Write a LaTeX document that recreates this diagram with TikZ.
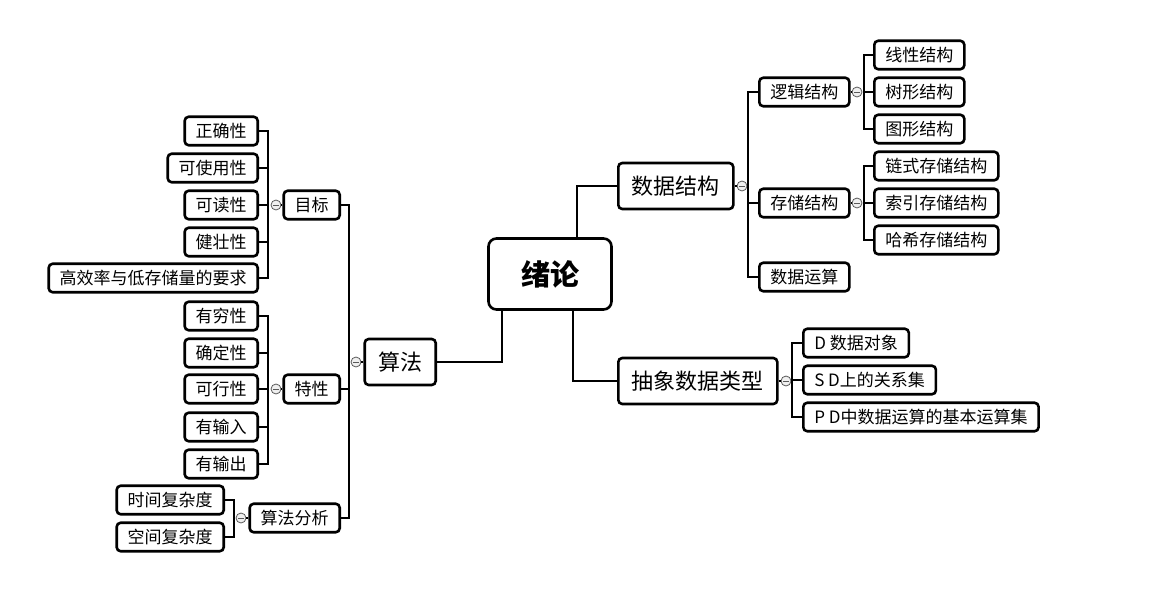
\documentclass[tikz,border=0pt]{standalone}
\usepackage{fontspec}
\setmainfont{Noto Sans CJK SC}
\usepackage{tikz}
\usetikzlibrary{positioning}

\begin{document}
\begin{tikzpicture}[x=1pt,y=-1pt,
  leaf/.style={draw,line width=2.6pt,rounded corners=4pt,font=\fontsize{17}{20}\selectfont,
    inner xsep=11pt,inner ysep=0pt,minimum height=28.5pt},
  branch/.style={leaf,font=\fontsize{22}{26}\selectfont,inner xsep=13.5pt,minimum height=46pt},
  root/.style={draw,line width=2.6pt,rounded corners=8pt,font=\fontsize{29}{34}\selectfont\bfseries,
    minimum width=123pt,minimum height=71pt},
  link/.style={line width=2.6pt},
  fold/.style={circle,draw=gray!70!black,fill=gray!12,line width=0.8pt,inner sep=0pt,minimum size=10pt,
    path picture={\draw[gray!70!black,line width=0.8pt]
      ([xshift=-2.6pt]path picture bounding box.center)--([xshift=2.6pt]path picture bounding box.center);}}]
\useasboundingbox (0,0) rectangle (1162,613);

% root and the three main branches
\node[root] (xl) at (550,274) {绪论};
\node[branch,anchor=west] (sjjg) at (617,186) {数据结构};
\node[branch,anchor=west] (cxlx) at (617,381) {抽象数据类型};
\node[branch,anchor=east] (sf) at (437,362) {算法};
\draw[link] ([xshift=27pt]xl.north) |- (sjjg.west);
\draw[link] ([xshift=23pt]xl.south) |- (cxlx.west);
\draw[link] ([xshift=-48pt]xl.south) |- (sf.east);

% 数据结构
\node[leaf,anchor=west] (ljjg) at (758,92) {逻辑结构};
\node[leaf,anchor=west] (ccjg) at (758,203) {存储结构};
\node[leaf,anchor=west] (sjys) at (758,277) {数据运算};
\node[fold] (sjfold) at (742,186) {};
\coordinate (sjt) at (748,186);
\draw[link] (sjjg.east) -- (sjfold.west);
\foreach \n in {ljjg,ccjg,sjys}
  \draw[link] (sjt) |- (\n.west);

\node[leaf,anchor=west] (xxjg) at (873,55) {线性结构};
\node[leaf,anchor=west] (sxjg) at (873,92) {树形结构};
\node[leaf,anchor=west] (txjg) at (873,129) {图形结构};
\node[fold] (ljfold) at (857,92) {};
\coordinate (ljt) at (864,92);
\draw[link] (ljjg.east) -- (ljfold.west);
\foreach \n in {xxjg,sxjg,txjg}
  \draw[link] (ljt) |- (\n.west);

\node[leaf,anchor=west] (lsjg) at (873,166) {链式存储结构};
\node[leaf,anchor=west] (syjg) at (873,203) {索引存储结构};
\node[leaf,anchor=west] (hxjg) at (873,240) {哈希存储结构};
\node[fold] (ccfold) at (857,203) {};
\coordinate (cct) at (864,203);
\draw[link] (ccjg.east) -- (ccfold.west);
\foreach \n in {lsjg,syjg,hxjg}
  \draw[link] (cct) |- (\n.west);

% 抽象数据类型
\node[leaf,anchor=west] (dobj) at (802,343) {D 数据对象};
\node[leaf,anchor=west] (srel) at (802,380) {S D上的关系集};
\node[leaf,anchor=west] (pops) at (802,417) {P D中数据运算的基本运算集};
\node[fold] (cxfold) at (786,381) {};
\coordinate (cxt) at (792,381);
\draw[link] (cxlx.east) -- (cxfold.west);
\foreach \n in {dobj,srel,pops}
  \draw[link] (cxt) |- (\n.west);

% 算法
\node[leaf,anchor=east] (mb) at (341,205) {目标};
\node[leaf,anchor=east] (tx) at (341,389) {特性};
\node[leaf,anchor=east] (sffx) at (341,518) {算法分析};
\node[fold] (sffold) at (356,362) {};
\coordinate (sft) at (349,362);
\draw[link] (sf.west) -- (sffold.east);
\foreach \n in {mb,tx,sffx}
  \draw[link] (sft) |- (\n.east);

\node[leaf,anchor=east] (zqx) at (259,131) {正确性};
\node[leaf,anchor=east] (ksyx) at (259,168) {可使用性};
\node[leaf,anchor=east] (kdx) at (259,205) {可读性};
\node[leaf,anchor=east] (jzx) at (259,242) {健壮性};
\node[leaf,anchor=east] (gxl) at (259,278) {高效率与低存储量的要求};
\node[fold] (mbfold) at (276,205) {};
\coordinate (mbt) at (268,205);
\draw[link] (mb.west) -- (mbfold.east);
\foreach \n in {zqx,ksyx,kdx,jzx,gxl}
  \draw[link] (mbt) |- (\n.east);

\node[leaf,anchor=east] (yqx) at (259,316) {有穷性};
\node[leaf,anchor=east] (qdx) at (259,353) {确定性};
\node[leaf,anchor=east] (kxx) at (259,389) {可行性};
\node[leaf,anchor=east] (ysr) at (259,427) {有输入};
\node[leaf,anchor=east] (ysc) at (259,464) {有输出};
\node[fold] (txfold) at (276,389) {};
\coordinate (txt) at (268,389);
\draw[link] (tx.west) -- (txfold.east);
\foreach \n in {yqx,qdx,kxx,ysr,ysc}
  \draw[link] (txt) |- (\n.east);

\node[leaf,anchor=east] (sjfz) at (225,500) {时间复杂度};
\node[leaf,anchor=east] (kjfz) at (225,537) {空间复杂度};
\node[fold] (fxfold) at (241,518) {};
\coordinate (fxt) at (234,518);
\draw[link] (sffx.west) -- (fxfold.east);
\foreach \n in {sjfz,kjfz}
  \draw[link] (fxt) |- (\n.east);
\end{tikzpicture}
\end{document}
